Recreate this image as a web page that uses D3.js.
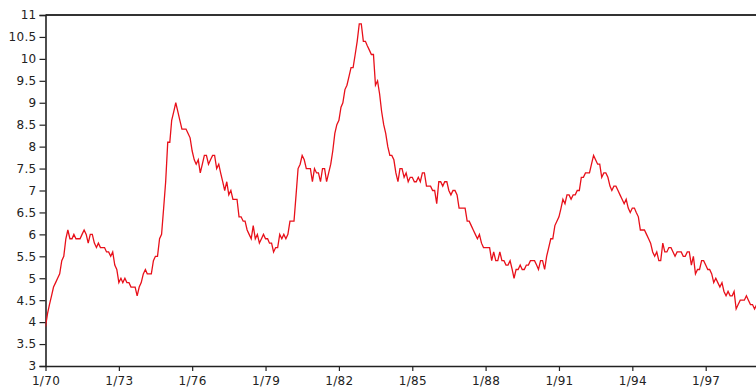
<!DOCTYPE html>
<html><head><meta charset="utf-8">
<script src="https://cdn.jsdelivr.net/npm/d3@7"></script>
<style>
html,body{margin:0;padding:0;background:#fff;overflow:hidden;}
text{font-family:"DejaVu Sans",sans-serif;}
</style></head>
<body><svg id="c" width="756" height="389"></svg>
<script>
const years = d3.range(1970, 2000);
const rates = [
[3.9,4.2,4.4,4.6,4.8,4.9,5.0,5.1,5.4,5.5,5.9,6.1],
[5.9,5.9,6.0,5.9,5.9,5.9,6.0,6.1,6.0,5.8,6.0,6.0],
[5.8,5.7,5.8,5.7,5.7,5.7,5.6,5.6,5.5,5.6,5.3,5.2],
[4.9,5.0,4.9,5.0,4.9,4.9,4.8,4.8,4.8,4.6,4.8,4.9],
[5.1,5.2,5.1,5.1,5.1,5.4,5.5,5.5,5.9,6.0,6.6,7.2],
[8.1,8.1,8.6,8.8,9.0,8.8,8.6,8.4,8.4,8.4,8.3,8.2],
[7.9,7.7,7.6,7.7,7.4,7.6,7.8,7.8,7.6,7.7,7.8,7.8],
[7.5,7.6,7.4,7.2,7.0,7.2,6.9,7.0,6.8,6.8,6.8,6.4],
[6.4,6.3,6.3,6.1,6.0,5.9,6.2,5.9,6.0,5.8,5.9,6.0],
[5.9,5.9,5.8,5.8,5.6,5.7,5.7,6.0,5.9,6.0,5.9,6.0],
[6.3,6.3,6.3,6.9,7.5,7.6,7.8,7.7,7.5,7.5,7.5,7.2],
[7.5,7.4,7.4,7.2,7.5,7.5,7.2,7.4,7.6,7.9,8.3,8.5],
[8.6,8.9,9.0,9.3,9.4,9.6,9.8,9.8,10.1,10.4,10.8,10.8],
[10.4,10.4,10.3,10.2,10.1,10.1,9.4,9.5,9.2,8.8,8.5,8.3],
[8.0,7.8,7.8,7.7,7.4,7.2,7.5,7.5,7.3,7.4,7.2,7.3],
[7.3,7.2,7.2,7.3,7.2,7.4,7.4,7.1,7.1,7.1,7.0,7.0],
[6.7,7.2,7.2,7.1,7.2,7.2,7.0,6.9,7.0,7.0,6.9,6.6],
[6.6,6.6,6.6,6.3,6.3,6.2,6.1,6.0,5.9,6.0,5.8,5.7],
[5.7,5.7,5.7,5.4,5.6,5.4,5.4,5.6,5.4,5.4,5.3,5.3],
[5.4,5.2,5.0,5.2,5.2,5.3,5.2,5.2,5.3,5.3,5.4,5.4],
[5.4,5.3,5.2,5.4,5.4,5.2,5.5,5.7,5.9,5.9,6.2,6.3],
[6.4,6.6,6.8,6.7,6.9,6.9,6.8,6.9,6.9,7.0,7.0,7.3],
[7.3,7.4,7.4,7.4,7.6,7.8,7.7,7.6,7.6,7.3,7.4,7.4],
[7.3,7.1,7.0,7.1,7.1,7.0,6.9,6.8,6.7,6.8,6.6,6.5],
[6.6,6.6,6.5,6.4,6.1,6.1,6.1,6.0,5.9,5.8,5.6,5.5],
[5.6,5.4,5.4,5.8,5.6,5.6,5.7,5.7,5.6,5.5,5.6,5.6],
[5.6,5.5,5.5,5.6,5.6,5.3,5.5,5.1,5.2,5.2,5.4,5.4],
[5.3,5.2,5.2,5.1,4.9,5.0,4.9,4.8,4.9,4.7,4.6,4.7],
[4.6,4.6,4.7,4.3,4.4,4.5,4.5,4.5,4.6,4.5,4.4,4.4],
[4.3,4.4,4.2,4.3,4.2,4.3,4.3,4.2,4.2,4.1,4.1,4.0]
];
const xTickYears = [1970,1973,1976,1979,1982,1985,1988,1991,1994,1997];
const yTicks = d3.range(3, 11.01, 0.5);

const data = [];
years.forEach((yr,i)=>rates[i].forEach((v,m)=>data.push({date:new Date(yr,m,1), v})));

(function(){
const svg = d3.select("#c");
const mLeft = 45.5, mTop = 15, mBottom = 366;
const x = d3.scaleTime().domain([new Date(1970,0,1), new Date(1997,0,1)]).range([mLeft, 705.7]);
const y = d3.scaleLinear().domain([3,11]).range([mBottom, mTop]);

svg.append("defs").append("clipPath").attr("id","clip")
  .append("rect").attr("x",mLeft).attr("y",0).attr("width",756-mLeft).attr("height",mBottom+1);

svg.append("line").attr("x1",mLeft).attr("x2",756).attr("y1",mTop).attr("y2",mTop)
  .attr("stroke","#333").attr("stroke-width",2);

const yAxis = d3.axisLeft(y).tickValues(yTicks).tickSize(6).tickPadding(3)
  .tickFormat(d=>d3.format("")(d));
const gy = svg.append("g").attr("transform",`translate(${mLeft},0)`).call(yAxis);
gy.select(".domain").attr("stroke","#222").attr("stroke-width",1.6);
gy.selectAll(".tick line").attr("stroke","#222").attr("stroke-width",1.2);
gy.selectAll("text").attr("font-size",12).attr("fill","#222").attr("font-family","DejaVu Sans").attr("letter-spacing","0.3px");

const xAxis = d3.axisBottom(x).tickValues(xTickYears.map(yy=>new Date(yy,0,1))).tickSize(5).tickSizeOuter(0).tickPadding(5)
  .tickFormat(d=>"1/"+String(d.getFullYear()).slice(2));
const gx = svg.append("g").attr("transform",`translate(0,${mBottom})`).call(xAxis);
gx.select(".domain").attr("d",`M${mLeft},0.5H756`).attr("stroke","#222").attr("stroke-width",1.6);
gx.selectAll(".tick line").attr("stroke","#222").attr("stroke-width",1.2);
gx.selectAll("text").attr("font-size",12).attr("fill","#222").attr("font-family","DejaVu Sans").attr("letter-spacing","0.3px");

const line = d3.line().x(d=>x(d.date)).y(d=>y(d.v));
svg.append("path").datum(data).attr("clip-path","url(#clip)")
  .attr("d",line).attr("fill","none").attr("stroke","#e8101a").attr("stroke-width",1.3);
})();
</script></body></html>
